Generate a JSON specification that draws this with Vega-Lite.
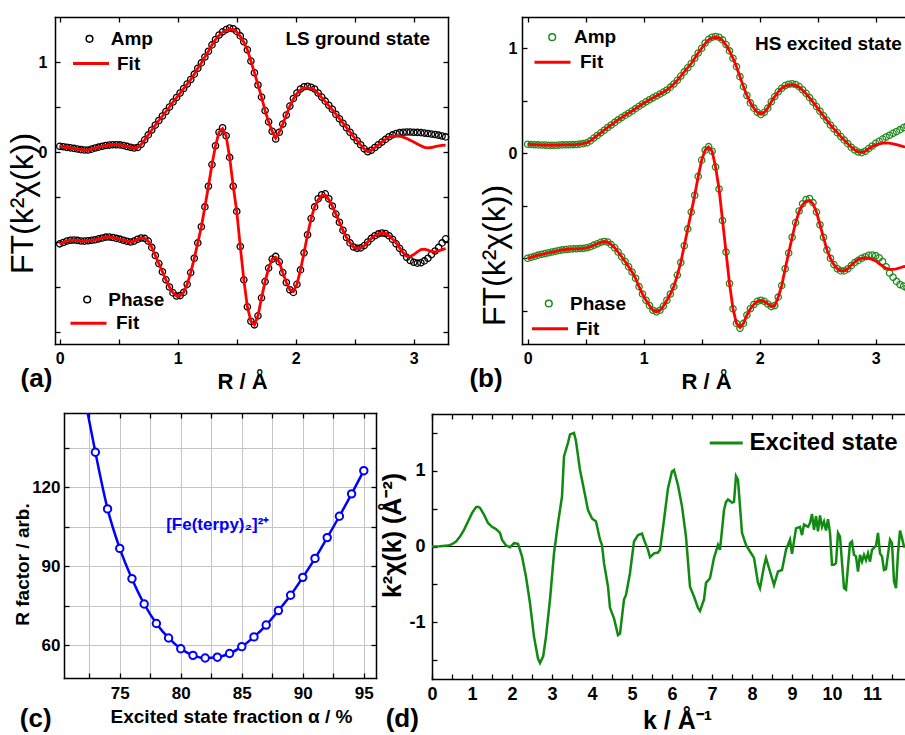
{
  "$schema": "https://vega.github.io/schema/vega-lite/v6.json",
  "width": 905,
  "height": 735,
  "autosize": {"type": "none"},
  "padding": 0,
  "background": "white",
  "config": {
    "font": "Liberation Sans",
    "view": {"stroke": null},
    "axis": {"domainColor": "black", "tickColor": "black", "domainWidth": 1.5, "tickWidth": 1.3, "labelColor": "black", "titleColor": "black", "labelFont": "Liberation Sans", "titleFont": "Liberation Sans", "labelFontWeight": "bold", "labelFlush": false, "labelOverlap": false, "grid": false, "domainCap": "square"},
    "legend": {"labelFont": "Liberation Sans", "labelFontWeight": "bold", "labelColor": "black", "padding": 0, "orient": "none", "title": null, "labelBaseline": "middle"}
  },
  "resolve": {
    "scale": {"x": "independent", "y": "independent", "color": "independent"},
    "axis": {"x": "independent", "y": "independent"},
    "legend": {"color": "independent"}
  },
  "datasets": {
    "fta": [
      {"R":0,"amp":0.063,"af":0.063,"ph":-1.02,"pf":-1.02},
      {"R":0.03,"amp":0.058,"af":0.058,"ph":-1.005,"pf":-1.005},
      {"R":0.06,"amp":0.052,"af":0.052,"ph":-0.99,"pf":-0.99},
      {"R":0.09,"amp":0.046,"af":0.046,"ph":-0.98,"pf":-0.98},
      {"R":0.12,"amp":0.04,"af":0.04,"ph":-0.978,"pf":-0.978},
      {"R":0.15,"amp":0.033,"af":0.033,"ph":-0.982,"pf":-0.982},
      {"R":0.18,"amp":0.026,"af":0.026,"ph":-0.988,"pf":-0.988},
      {"R":0.21,"amp":0.022,"af":0.022,"ph":-0.99,"pf":-0.99},
      {"R":0.24,"amp":0.022,"af":0.022,"ph":-0.986,"pf":-0.986},
      {"R":0.27,"amp":0.032,"af":0.032,"ph":-0.98,"pf":-0.98},
      {"R":0.3,"amp":0.044,"af":0.044,"ph":-0.975,"pf":-0.975},
      {"R":0.33,"amp":0.054,"af":0.054,"ph":-0.965,"pf":-0.965},
      {"R":0.36,"amp":0.064,"af":0.064,"ph":-0.955,"pf":-0.955},
      {"R":0.39,"amp":0.072,"af":0.072,"ph":-0.946,"pf":-0.946},
      {"R":0.42,"amp":0.077,"af":0.077,"ph":-0.944,"pf":-0.944},
      {"R":0.45,"amp":0.08,"af":0.08,"ph":-0.95,"pf":-0.95},
      {"R":0.48,"amp":0.081,"af":0.081,"ph":-0.96,"pf":-0.96},
      {"R":0.51,"amp":0.079,"af":0.079,"ph":-0.968,"pf":-0.968},
      {"R":0.54,"amp":0.072,"af":0.072,"ph":-0.98,"pf":-0.98},
      {"R":0.57,"amp":0.062,"af":0.062,"ph":-0.992,"pf":-0.992},
      {"R":0.6,"amp":0.052,"af":0.052,"ph":-1.0,"pf":-1.0},
      {"R":0.63,"amp":0.045,"af":0.045,"ph":-0.99,"pf":-0.99},
      {"R":0.66,"amp":0.05,"af":0.05,"ph":-0.97,"pf":-0.97},
      {"R":0.69,"amp":0.085,"af":0.085,"ph":-0.955,"pf":-0.955},
      {"R":0.72,"amp":0.135,"af":0.135,"ph":-0.96,"pf":-0.96},
      {"R":0.75,"amp":0.19,"af":0.19,"ph":-0.99,"pf":-0.99},
      {"R":0.78,"amp":0.245,"af":0.245,"ph":-1.06,"pf":-1.06},
      {"R":0.81,"amp":0.3,"af":0.3,"ph":-1.15,"pf":-1.15},
      {"R":0.84,"amp":0.35,"af":0.35,"ph":-1.24,"pf":-1.24},
      {"R":0.87,"amp":0.4,"af":0.4,"ph":-1.33,"pf":-1.33},
      {"R":0.9,"amp":0.45,"af":0.45,"ph":-1.42,"pf":-1.42},
      {"R":0.93,"amp":0.5,"af":0.5,"ph":-1.5,"pf":-1.5},
      {"R":0.96,"amp":0.555,"af":0.555,"ph":-1.565,"pf":-1.565},
      {"R":0.99,"amp":0.605,"af":0.605,"ph":-1.6,"pf":-1.6},
      {"R":1.02,"amp":0.655,"af":0.655,"ph":-1.595,"pf":-1.595},
      {"R":1.05,"amp":0.705,"af":0.705,"ph":-1.56,"pf":-1.56},
      {"R":1.08,"amp":0.755,"af":0.755,"ph":-1.47,"pf":-1.47},
      {"R":1.11,"amp":0.805,"af":0.805,"ph":-1.34,"pf":-1.34},
      {"R":1.14,"amp":0.865,"af":0.865,"ph":-1.18,"pf":-1.18},
      {"R":1.17,"amp":0.93,"af":0.93,"ph":-1.01,"pf":-1.01},
      {"R":1.2,"amp":0.99,"af":0.99,"ph":-0.83,"pf":-0.83},
      {"R":1.23,"amp":1.055,"af":1.055,"ph":-0.61,"pf":-0.61},
      {"R":1.26,"amp":1.12,"af":1.12,"ph":-0.38,"pf":-0.38},
      {"R":1.29,"amp":1.19,"af":1.19,"ph":-0.14,"pf":-0.14},
      {"R":1.32,"amp":1.25,"af":1.25,"ph":0.07,"pf":0.07},
      {"R":1.35,"amp":1.3,"af":1.295,"ph":0.22,"pf":0.22},
      {"R":1.38,"amp":1.335,"af":1.33,"ph":0.27,"pf":0.26},
      {"R":1.41,"amp":1.36,"af":1.35,"ph":0.18,"pf":0.18},
      {"R":1.44,"amp":1.378,"af":1.365,"ph":-0.06,"pf":-0.06},
      {"R":1.47,"amp":1.37,"af":1.36,"ph":-0.38,"pf":-0.38},
      {"R":1.5,"amp":1.34,"af":1.335,"ph":-0.66,"pf":-0.66},
      {"R":1.53,"amp":1.29,"af":1.285,"ph":-1.05,"pf":-1.05},
      {"R":1.56,"amp":1.225,"af":1.22,"ph":-1.42,"pf":-1.42},
      {"R":1.59,"amp":1.135,"af":1.135,"ph":-1.72,"pf":-1.72},
      {"R":1.62,"amp":1.01,"af":1.01,"ph":-1.88,"pf":-1.88},
      {"R":1.65,"amp":0.88,"af":0.88,"ph":-1.92,"pf":-1.92},
      {"R":1.68,"amp":0.745,"af":0.745,"ph":-1.82,"pf":-1.82},
      {"R":1.71,"amp":0.61,"af":0.61,"ph":-1.62,"pf":-1.62},
      {"R":1.74,"amp":0.46,"af":0.46,"ph":-1.44,"pf":-1.44},
      {"R":1.77,"amp":0.335,"af":0.335,"ph":-1.29,"pf":-1.29},
      {"R":1.8,"amp":0.23,"af":0.23,"ph":-1.19,"pf":-1.19},
      {"R":1.83,"amp":0.145,"af":0.155,"ph":-1.16,"pf":-1.17},
      {"R":1.86,"amp":0.22,"af":0.22,"ph":-1.22,"pf":-1.22},
      {"R":1.89,"amp":0.31,"af":0.31,"ph":-1.34,"pf":-1.34},
      {"R":1.92,"amp":0.41,"af":0.41,"ph":-1.45,"pf":-1.45},
      {"R":1.95,"amp":0.51,"af":0.51,"ph":-1.53,"pf":-1.53},
      {"R":1.98,"amp":0.595,"af":0.59,"ph":-1.56,"pf":-1.55},
      {"R":2.01,"amp":0.655,"af":0.65,"ph":-1.47,"pf":-1.47},
      {"R":2.04,"amp":0.7,"af":0.69,"ph":-1.31,"pf":-1.31},
      {"R":2.07,"amp":0.725,"af":0.71,"ph":-1.12,"pf":-1.12},
      {"R":2.1,"amp":0.73,"af":0.715,"ph":-0.92,"pf":-0.92},
      {"R":2.13,"amp":0.72,"af":0.705,"ph":-0.74,"pf":-0.74},
      {"R":2.16,"amp":0.7,"af":0.69,"ph":-0.61,"pf":-0.61},
      {"R":2.19,"amp":0.655,"af":0.65,"ph":-0.52,"pf":-0.53},
      {"R":2.22,"amp":0.61,"af":0.605,"ph":-0.475,"pf":-0.485},
      {"R":2.25,"amp":0.565,"af":0.56,"ph":-0.465,"pf":-0.48},
      {"R":2.28,"amp":0.52,"af":0.515,"ph":-0.52,"pf":-0.525},
      {"R":2.31,"amp":0.475,"af":0.47,"ph":-0.6,"pf":-0.6},
      {"R":2.34,"amp":0.42,"af":0.42,"ph":-0.69,"pf":-0.69},
      {"R":2.37,"amp":0.37,"af":0.37,"ph":-0.78,"pf":-0.78},
      {"R":2.4,"amp":0.32,"af":0.32,"ph":-0.87,"pf":-0.87},
      {"R":2.43,"amp":0.27,"af":0.27,"ph":-0.95,"pf":-0.95},
      {"R":2.46,"amp":0.22,"af":0.22,"ph":-1.01,"pf":-1.01},
      {"R":2.49,"amp":0.17,"af":0.17,"ph":-1.055,"pf":-1.055},
      {"R":2.52,"amp":0.125,"af":0.125,"ph":-1.07,"pf":-1.07},
      {"R":2.55,"amp":0.08,"af":0.08,"ph":-1.065,"pf":-1.065},
      {"R":2.58,"amp":0.035,"af":0.035,"ph":-1.04,"pf":-1.04},
      {"R":2.61,"amp":0.003,"af":0.005,"ph":-1.0,"pf":-1.0},
      {"R":2.64,"amp":0.02,"af":0.02,"ph":-0.96,"pf":-0.96},
      {"R":2.67,"amp":0.05,"af":0.05,"ph":-0.93,"pf":-0.93},
      {"R":2.7,"amp":0.08,"af":0.08,"ph":-0.91,"pf":-0.91},
      {"R":2.73,"amp":0.11,"af":0.11,"ph":-0.9,"pf":-0.9},
      {"R":2.76,"amp":0.14,"af":0.14,"ph":-0.905,"pf":-0.905},
      {"R":2.79,"amp":0.17,"af":0.165,"ph":-0.93,"pf":-0.93},
      {"R":2.82,"amp":0.19,"af":0.175,"ph":-0.97,"pf":-0.965},
      {"R":2.85,"amp":0.205,"af":0.18,"ph":-1.02,"pf":-1.01},
      {"R":2.88,"amp":0.215,"af":0.175,"ph":-1.07,"pf":-1.065},
      {"R":2.91,"amp":0.22,"af":0.165,"ph":-1.12,"pf":-1.12},
      {"R":2.94,"amp":0.222,"af":0.15,"ph":-1.17,"pf":-1.16},
      {"R":2.97,"amp":0.222,"af":0.13,"ph":-1.205,"pf":-1.16},
      {"R":3.0,"amp":0.22,"af":0.11,"ph":-1.225,"pf":-1.14},
      {"R":3.03,"amp":0.218,"af":0.09,"ph":-1.235,"pf":-1.11},
      {"R":3.06,"amp":0.215,"af":0.07,"ph":-1.23,"pf":-1.085},
      {"R":3.09,"amp":0.21,"af":0.052,"ph":-1.21,"pf":-1.08},
      {"R":3.12,"amp":0.206,"af":0.046,"ph":-1.18,"pf":-1.09},
      {"R":3.15,"amp":0.2,"af":0.05,"ph":-1.14,"pf":-1.105},
      {"R":3.18,"amp":0.194,"af":0.06,"ph":-1.1,"pf":-1.11},
      {"R":3.21,"amp":0.187,"af":0.068,"ph":-1.06,"pf":-1.1},
      {"R":3.24,"amp":0.178,"af":0.074,"ph":-1.01,"pf":-1.085},
      {"R":3.27,"amp":0.168,"af":0.077,"ph":-0.965,"pf":-1.072}
    ],
    "ftb": [
      {"R":0,"amp":0.086,"af":0.086,"ph":-1.0,"pf":-1.0},
      {"R":0.03,"amp":0.084,"af":0.084,"ph":-0.99,"pf":-0.99},
      {"R":0.06,"amp":0.082,"af":0.082,"ph":-0.98,"pf":-0.98},
      {"R":0.09,"amp":0.08,"af":0.08,"ph":-0.97,"pf":-0.97},
      {"R":0.12,"amp":0.079,"af":0.079,"ph":-0.962,"pf":-0.962},
      {"R":0.15,"amp":0.078,"af":0.078,"ph":-0.955,"pf":-0.955},
      {"R":0.18,"amp":0.077,"af":0.077,"ph":-0.947,"pf":-0.947},
      {"R":0.21,"amp":0.076,"af":0.076,"ph":-0.94,"pf":-0.94},
      {"R":0.24,"amp":0.077,"af":0.077,"ph":-0.933,"pf":-0.933},
      {"R":0.27,"amp":0.078,"af":0.078,"ph":-0.926,"pf":-0.926},
      {"R":0.3,"amp":0.08,"af":0.08,"ph":-0.92,"pf":-0.92},
      {"R":0.33,"amp":0.081,"af":0.081,"ph":-0.916,"pf":-0.916},
      {"R":0.36,"amp":0.082,"af":0.082,"ph":-0.912,"pf":-0.912},
      {"R":0.39,"amp":0.083,"af":0.083,"ph":-0.91,"pf":-0.91},
      {"R":0.42,"amp":0.084,"af":0.084,"ph":-0.909,"pf":-0.909},
      {"R":0.45,"amp":0.087,"af":0.087,"ph":-0.907,"pf":-0.907},
      {"R":0.48,"amp":0.092,"af":0.092,"ph":-0.905,"pf":-0.905},
      {"R":0.51,"amp":0.1,"af":0.1,"ph":-0.9,"pf":-0.9},
      {"R":0.54,"amp":0.118,"af":0.118,"ph":-0.89,"pf":-0.89},
      {"R":0.57,"amp":0.145,"af":0.145,"ph":-0.875,"pf":-0.875},
      {"R":0.6,"amp":0.17,"af":0.17,"ph":-0.862,"pf":-0.862},
      {"R":0.63,"amp":0.195,"af":0.195,"ph":-0.848,"pf":-0.848},
      {"R":0.66,"amp":0.22,"af":0.22,"ph":-0.84,"pf":-0.84},
      {"R":0.69,"amp":0.246,"af":0.246,"ph":-0.845,"pf":-0.845},
      {"R":0.72,"amp":0.27,"af":0.27,"ph":-0.87,"pf":-0.87},
      {"R":0.75,"amp":0.294,"af":0.294,"ph":-0.9,"pf":-0.9},
      {"R":0.78,"amp":0.318,"af":0.318,"ph":-0.94,"pf":-0.94},
      {"R":0.81,"amp":0.34,"af":0.34,"ph":-0.985,"pf":-0.985},
      {"R":0.84,"amp":0.361,"af":0.361,"ph":-1.03,"pf":-1.03},
      {"R":0.87,"amp":0.382,"af":0.382,"ph":-1.08,"pf":-1.08},
      {"R":0.9,"amp":0.403,"af":0.403,"ph":-1.13,"pf":-1.13},
      {"R":0.93,"amp":0.425,"af":0.425,"ph":-1.19,"pf":-1.19},
      {"R":0.96,"amp":0.447,"af":0.447,"ph":-1.27,"pf":-1.27},
      {"R":0.99,"amp":0.47,"af":0.47,"ph":-1.34,"pf":-1.34},
      {"R":1.02,"amp":0.49,"af":0.49,"ph":-1.4,"pf":-1.4},
      {"R":1.05,"amp":0.51,"af":0.51,"ph":-1.45,"pf":-1.45},
      {"R":1.08,"amp":0.528,"af":0.528,"ph":-1.495,"pf":-1.495},
      {"R":1.11,"amp":0.546,"af":0.546,"ph":-1.51,"pf":-1.51},
      {"R":1.14,"amp":0.564,"af":0.564,"ph":-1.495,"pf":-1.495},
      {"R":1.17,"amp":0.583,"af":0.583,"ph":-1.455,"pf":-1.455},
      {"R":1.2,"amp":0.603,"af":0.603,"ph":-1.4,"pf":-1.4},
      {"R":1.23,"amp":0.63,"af":0.63,"ph":-1.34,"pf":-1.34},
      {"R":1.26,"amp":0.66,"af":0.66,"ph":-1.27,"pf":-1.27},
      {"R":1.29,"amp":0.695,"af":0.695,"ph":-1.16,"pf":-1.16},
      {"R":1.32,"amp":0.735,"af":0.735,"ph":-1.04,"pf":-1.04},
      {"R":1.35,"amp":0.775,"af":0.775,"ph":-0.88,"pf":-0.88},
      {"R":1.38,"amp":0.815,"af":0.815,"ph":-0.72,"pf":-0.72},
      {"R":1.41,"amp":0.855,"af":0.855,"ph":-0.56,"pf":-0.56},
      {"R":1.44,"amp":0.905,"af":0.905,"ph":-0.4,"pf":-0.4},
      {"R":1.47,"amp":0.955,"af":0.955,"ph":-0.22,"pf":-0.22},
      {"R":1.5,"amp":1.0,"af":1.0,"ph":-0.065,"pf":-0.065},
      {"R":1.53,"amp":1.05,"af":1.045,"ph":0.03,"pf":0.03},
      {"R":1.56,"amp":1.085,"af":1.08,"ph":0.063,"pf":0.06},
      {"R":1.59,"amp":1.105,"af":1.1,"ph":0.02,"pf":0.02},
      {"R":1.62,"amp":1.112,"af":1.105,"ph":-0.13,"pf":-0.13},
      {"R":1.65,"amp":1.105,"af":1.1,"ph":-0.34,"pf":-0.34},
      {"R":1.68,"amp":1.08,"af":1.075,"ph":-0.64,"pf":-0.64},
      {"R":1.71,"amp":1.035,"af":1.03,"ph":-0.94,"pf":-0.94},
      {"R":1.74,"amp":0.975,"af":0.975,"ph":-1.24,"pf":-1.24},
      {"R":1.77,"amp":0.905,"af":0.905,"ph":-1.48,"pf":-1.48},
      {"R":1.8,"amp":0.825,"af":0.825,"ph":-1.62,"pf":-1.62},
      {"R":1.83,"amp":0.73,"af":0.73,"ph":-1.667,"pf":-1.66},
      {"R":1.86,"amp":0.635,"af":0.635,"ph":-1.62,"pf":-1.62},
      {"R":1.89,"amp":0.55,"af":0.55,"ph":-1.54,"pf":-1.54},
      {"R":1.92,"amp":0.48,"af":0.48,"ph":-1.48,"pf":-1.48},
      {"R":1.95,"amp":0.43,"af":0.43,"ph":-1.44,"pf":-1.44},
      {"R":1.98,"amp":0.39,"af":0.39,"ph":-1.41,"pf":-1.41},
      {"R":2.01,"amp":0.37,"af":0.372,"ph":-1.4,"pf":-1.4},
      {"R":2.04,"amp":0.39,"af":0.39,"ph":-1.41,"pf":-1.41},
      {"R":2.07,"amp":0.43,"af":0.43,"ph":-1.435,"pf":-1.435},
      {"R":2.1,"amp":0.49,"af":0.49,"ph":-1.46,"pf":-1.46},
      {"R":2.13,"amp":0.54,"af":0.54,"ph":-1.45,"pf":-1.45},
      {"R":2.16,"amp":0.585,"af":0.585,"ph":-1.37,"pf":-1.37},
      {"R":2.19,"amp":0.62,"af":0.62,"ph":-1.26,"pf":-1.26},
      {"R":2.22,"amp":0.645,"af":0.64,"ph":-1.1,"pf":-1.1},
      {"R":2.25,"amp":0.658,"af":0.65,"ph":-0.95,"pf":-0.95},
      {"R":2.28,"amp":0.662,"af":0.655,"ph":-0.8,"pf":-0.8},
      {"R":2.31,"amp":0.655,"af":0.648,"ph":-0.66,"pf":-0.66},
      {"R":2.34,"amp":0.635,"af":0.63,"ph":-0.55,"pf":-0.555},
      {"R":2.37,"amp":0.605,"af":0.6,"ph":-0.48,"pf":-0.49},
      {"R":2.4,"amp":0.571,"af":0.568,"ph":-0.44,"pf":-0.455},
      {"R":2.43,"amp":0.53,"af":0.528,"ph":-0.43,"pf":-0.45},
      {"R":2.46,"amp":0.488,"af":0.488,"ph":-0.47,"pf":-0.48},
      {"R":2.49,"amp":0.445,"af":0.445,"ph":-0.56,"pf":-0.56},
      {"R":2.52,"amp":0.4,"af":0.4,"ph":-0.68,"pf":-0.68},
      {"R":2.55,"amp":0.357,"af":0.357,"ph":-0.8,"pf":-0.8},
      {"R":2.58,"amp":0.314,"af":0.314,"ph":-0.92,"pf":-0.92},
      {"R":2.61,"amp":0.27,"af":0.27,"ph":-1.0,"pf":-1.0},
      {"R":2.64,"amp":0.233,"af":0.233,"ph":-1.06,"pf":-1.06},
      {"R":2.67,"amp":0.196,"af":0.196,"ph":-1.1,"pf":-1.1},
      {"R":2.7,"amp":0.159,"af":0.159,"ph":-1.12,"pf":-1.12},
      {"R":2.73,"amp":0.125,"af":0.125,"ph":-1.12,"pf":-1.12},
      {"R":2.76,"amp":0.092,"af":0.092,"ph":-1.1,"pf":-1.1},
      {"R":2.79,"amp":0.058,"af":0.058,"ph":-1.07,"pf":-1.065},
      {"R":2.82,"amp":0.032,"af":0.032,"ph":-1.04,"pf":-1.035},
      {"R":2.85,"amp":0.012,"af":0.012,"ph":-1.02,"pf":-1.01},
      {"R":2.88,"amp":0.006,"af":0.006,"ph":-1.0,"pf":-1.0},
      {"R":2.91,"amp":0.02,"af":0.02,"ph":-0.985,"pf":-0.995},
      {"R":2.94,"amp":0.045,"af":0.045,"ph":-0.972,"pf":-1.0},
      {"R":2.97,"amp":0.07,"af":0.065,"ph":-0.968,"pf":-1.01},
      {"R":3.0,"amp":0.095,"af":0.08,"ph":-0.975,"pf":-1.025},
      {"R":3.03,"amp":0.115,"af":0.09,"ph":-0.995,"pf":-1.05},
      {"R":3.06,"amp":0.135,"af":0.097,"ph":-1.03,"pf":-1.075},
      {"R":3.09,"amp":0.155,"af":0.098,"ph":-1.08,"pf":-1.095},
      {"R":3.12,"amp":0.172,"af":0.096,"ph":-1.14,"pf":-1.105},
      {"R":3.15,"amp":0.19,"af":0.09,"ph":-1.18,"pf":-1.105},
      {"R":3.18,"amp":0.207,"af":0.082,"ph":-1.22,"pf":-1.1},
      {"R":3.21,"amp":0.225,"af":0.073,"ph":-1.25,"pf":-1.09},
      {"R":3.24,"amp":0.245,"af":0.064,"ph":-1.265,"pf":-1.08},
      {"R":3.27,"amp":0.26,"af":0.057,"ph":-1.28,"pf":-1.075}
    ],
    "rf": [
      {"alpha":73,"rfac":133.3},{"alpha":74,"rfac":111.8},{"alpha":75,"rfac":96.8},{"alpha":76,"rfac":85.3},
      {"alpha":77,"rfac":75.7},{"alpha":78,"rfac":68.3},{"alpha":79,"rfac":62.8},{"alpha":80,"rfac":58.7},
      {"alpha":81,"rfac":56.2},{"alpha":82,"rfac":55.2},{"alpha":83,"rfac":55.5},{"alpha":84,"rfac":56.9},
      {"alpha":85,"rfac":59.5},{"alpha":86,"rfac":63.2},{"alpha":87,"rfac":67.7},{"alpha":88,"rfac":73.2},
      {"alpha":89,"rfac":79.0},{"alpha":90,"rfac":85.8},{"alpha":91,"rfac":93.0},{"alpha":92,"rfac":100.9},
      {"alpha":93,"rfac":109.0},{"alpha":94,"rfac":117.5},{"alpha":95,"rfac":126.3}
    ],
    "rfl": [
      {"alpha":72.37,"rfac":148.2},
      {"alpha":73,"rfac":133.3},{"alpha":74,"rfac":111.8},{"alpha":75,"rfac":96.8},{"alpha":76,"rfac":85.3},
      {"alpha":77,"rfac":75.7},{"alpha":78,"rfac":68.3},{"alpha":79,"rfac":62.8},{"alpha":80,"rfac":58.7},
      {"alpha":81,"rfac":56.2},{"alpha":82,"rfac":55.2},{"alpha":83,"rfac":55.5},{"alpha":84,"rfac":56.9},
      {"alpha":85,"rfac":59.5},{"alpha":86,"rfac":63.2},{"alpha":87,"rfac":67.7},{"alpha":88,"rfac":73.2},
      {"alpha":89,"rfac":79.0},{"alpha":90,"rfac":85.8},{"alpha":91,"rfac":93.0},{"alpha":92,"rfac":100.9},
      {"alpha":93,"rfac":109.0},{"alpha":94,"rfac":117.5},{"alpha":95,"rfac":126.3}
    ],
    "chi": [
      {"k":0,"c":0},{"k":0.2,"c":0.002},{"k":0.4,"c":0.012},{"k":0.5,"c":0.03},{"k":0.6,"c":0.065},
      {"k":0.7,"c":0.13},{"k":0.8,"c":0.22},{"k":0.9,"c":0.33},{"k":1.0,"c":0.44},{"k":1.1,"c":0.52},
      {"k":1.15,"c":0.525},{"k":1.2,"c":0.51},{"k":1.3,"c":0.42},{"k":1.4,"c":0.31},{"k":1.5,"c":0.26},
      {"k":1.6,"c":0.23},{"k":1.7,"c":0.18},{"k":1.75,"c":0.09},{"k":1.85,"c":0.013},{"k":1.95,"c":-0.01},
      {"k":2.05,"c":0.044},{"k":2.15,"c":0.035},{"k":2.25,"c":-0.13},{"k":2.35,"c":-0.4},{"k":2.45,"c":-0.75},
      {"k":2.55,"c":-1.19},{"k":2.65,"c":-1.48},{"k":2.7,"c":-1.54},{"k":2.78,"c":-1.45},{"k":2.85,"c":-1.19},
      {"k":2.95,"c":-0.7},{"k":3.05,"c":-0.09},{"k":3.15,"c":0.31},{"k":3.25,"c":0.66},{"k":3.3,"c":1.19},
      {"k":3.4,"c":1.37},{"k":3.45,"c":1.48},{"k":3.55,"c":1.5},{"k":3.6,"c":1.39},{"k":3.7,"c":1.01},
      {"k":3.8,"c":0.75},{"k":3.9,"c":0.48},{"k":4.0,"c":0.37},{"k":4.1,"c":0.33},{"k":4.2,"c":0.09},
      {"k":4.25,"c":0.02},{"k":4.3,"c":-0.22},{"k":4.4,"c":-0.53},{"k":4.45,"c":-0.81},{"k":4.55,"c":-0.95},
      {"k":4.65,"c":-1.17},{"k":4.7,"c":-1.15},{"k":4.8,"c":-0.7},{"k":4.85,"c":-0.64},{"k":4.95,"c":-0.35},
      {"k":5.05,"c":0.066},{"k":5.15,"c":0.15},{"k":5.25,"c":0.17},{"k":5.3,"c":0.09},{"k":5.4,"c":-0.044},
      {"k":5.45,"c":-0.14},{"k":5.55,"c":-0.09},{"k":5.65,"c":-0.08},{"k":5.7,"c":-0.044},{"k":5.8,"c":0.35},
      {"k":5.9,"c":0.77},{"k":6.0,"c":0.99},{"k":6.05,"c":1.01},{"k":6.15,"c":0.81},{"k":6.25,"c":0.53},
      {"k":6.35,"c":0.13},{"k":6.45,"c":-0.53},{"k":6.55,"c":-0.66},{"k":6.65,"c":-0.81},{"k":6.7,"c":-0.85},
      {"k":6.8,"c":-0.7},{"k":6.85,"c":-0.48},{"k":6.95,"c":-0.42},{"k":7.05,"c":-0.15},{"k":7.15,"c":0.02},
      {"k":7.2,"c":-0.044},{"k":7.3,"c":0.48},{"k":7.35,"c":0.59},{"k":7.4,"c":0.62},{"k":7.5,"c":0.58},
      {"k":7.55,"c":0.59},{"k":7.6,"c":0.93},{"k":7.65,"c":0.88},{"k":7.75,"c":0.18},{"k":7.85,"c":0.02},
      {"k":7.95,"c":-0.066},{"k":8.05,"c":-0.15},{"k":8.15,"c":-0.48},{"k":8.2,"c":-0.55},{"k":8.3,"c":-0.26},
      {"k":8.35,"c":-0.15},{"k":8.45,"c":-0.33},{"k":8.55,"c":-0.51},{"k":8.65,"c":-0.33},{"k":8.75,"c":-0.31},
      {"k":8.85,"c":-0.044},{"k":8.95,"c":0.09},{"k":9.0,"c":-0.097},{"k":9.1,"c":0.24},{"k":9.2,"c":0.26},
      {"k":9.25,"c":0.15},{"k":9.3,"c":0.29},{"k":9.4,"c":0.26},{"k":9.45,"c":0.31},{"k":9.5,"c":0.43},
      {"k":9.55,"c":0.22},{"k":9.6,"c":0.4},{"k":9.65,"c":0.2},{"k":9.7,"c":0.41},{"k":9.75,"c":0.26},
      {"k":9.8,"c":0.33},{"k":9.85,"c":0.21},{"k":9.9,"c":0.36},{"k":9.95,"c":0.18},{"k":10.0,"c":-0.24},
      {"k":10.05,"c":-0.24},{"k":10.1,"c":-0.22},{"k":10.15,"c":0.18},{"k":10.2,"c":0.13},{"k":10.3,"c":-0.55},
      {"k":10.35,"c":-0.57},{"k":10.45,"c":0.044},{"k":10.5,"c":0.066},{"k":10.55,"c":-0.11},{"k":10.6,"c":-0.13},
      {"k":10.65,"c":-0.33},{"k":10.7,"c":-0.11},{"k":10.75,"c":-0.2},{"k":10.8,"c":-0.11},{"k":10.85,"c":-0.18},
      {"k":10.9,"c":-0.09},{"k":10.95,"c":-0.2},{"k":11.0,"c":-0.044},{"k":11.1,"c":0.01},{"k":11.15,"c":0.18},
      {"k":11.2,"c":-0.09},{"k":11.25,"c":-0.13},{"k":11.3,"c":-0.31},{"k":11.35,"c":-0.3},{"k":11.45,"c":0.09},
      {"k":11.5,"c":0.044},{"k":11.55,"c":-0.46},{"k":11.6,"c":-0.55},{"k":11.65,"c":-0.09},{"k":11.7,"c":0.21},
      {"k":11.75,"c":0.11},{"k":11.8,"c":0.0},{"k":11.85,"c":0.0}
    ]
  },
  "layer": [
    {
      "data": {"name": "fta"},
      "mark": {"type": "point", "shape": "circle", "filled": false, "size": 40, "strokeWidth": 1.3, "opacity": 1},
      "encoding": {
        "x": {"field": "R", "type": "quantitative", "scale": {"domain": [-0.04, 3.29], "range": [55, 448], "nice": false, "zero": false},
          "axis": {"orient": "bottom", "offset": -391, "values": [0,0.5,1,1.5,2,2.5,3], "labelExpr": "datum.value % 1 === 0 ? '' + datum.value : ''", "tickSize": -5, "labelPadding": 11, "labelFontSize": 16, "title": "R / Å", "titleFontSize": 22, "titleFontWeight": "bold", "titleX": 242, "titleY": 44, "titleBaseline": "alphabetic", "titleAlign": "center"}},
        "y": {"field": "amp", "type": "quantitative", "scale": {"domain": [-2.133, 1.5], "range": [344, 17], "nice": false, "zero": false},
          "axis": {"orient": "left", "offset": -55, "values": [-2,-1.5,-1,-0.5,0,0.5,1], "labelExpr": "datum.value === 0 || datum.value === 1 ? '' + datum.value : ''", "tickSize": -5, "labelPadding": 13, "labelFontSize": 16, "title": "FT(k²χ(k))", "titleFontSize": 32, "titleFontWeight": "normal", "titleX": -23, "titleY": 203, "titleBaseline": "alphabetic", "titleAngle": 270, "titleAlign": "center"}},
        "color": {"datum": "Amp", "type": "nominal", "scale": {"domain": ["Amp"], "range": ["black"]},
          "legend": {"legendX": 80, "legendY": 29.3, "symbolType": "circle", "symbolSize": 45, "symbolStrokeWidth": 1.5, "labelOffset": 11.7, "labelFontSize": 19}}
      }
    },
    {
      "data": {"name": "fta"},
      "mark": {"type": "line", "strokeWidth": 2.8},
      "encoding": {
        "x": {"field": "R", "type": "quantitative", "scale": {"domain": [-0.04, 3.29], "range": [55, 448], "nice": false, "zero": false},
          "axis": {"orient": "top", "offset": -17, "values": [0,0.5,1,1.5,2,2.5,3], "labels": false, "tickSize": -5, "title": null}},
        "y": {"field": "af", "type": "quantitative", "scale": {"domain": [-2.133, 1.5], "range": [344, 17], "nice": false, "zero": false},
          "axis": {"orient": "right", "offset": -457, "values": [-2,-1.5,-1,-0.5,0,0.5,1], "labels": false, "tickSize": -5, "title": null}},
        "color": {"datum": "Fit", "type": "nominal", "scale": {"domain": ["Fit"], "range": ["#ff0000"]},
          "legend": {"legendX": 80.5, "legendY": 53, "symbolType": "M-2,0H2", "symbolSize": 324, "symbolStrokeWidth": 3, "labelOffset": 15.5, "labelFontSize": 19}}
      }
    },
    {
      "data": {"name": "fta"},
      "mark": {"type": "point", "shape": "circle", "filled": false, "size": 40, "strokeWidth": 1.3, "opacity": 1},
      "encoding": {
        "x": {"field": "R", "type": "quantitative", "scale": {"domain": [-0.04, 3.29], "range": [55, 448], "nice": false, "zero": false}, "axis": null},
        "y": {"field": "ph", "type": "quantitative", "scale": {"domain": [-2.133, 1.5], "range": [344, 17], "nice": false, "zero": false}, "axis": null},
        "color": {"datum": "Phase", "type": "nominal", "scale": {"domain": ["Phase"], "range": ["black"]},
          "legend": {"legendX": 77.7, "legendY": 290, "symbolType": "circle", "symbolSize": 45, "symbolStrokeWidth": 1.5, "labelOffset": 11.6, "labelFontSize": 19}}
      }
    },
    {
      "data": {"name": "fta"},
      "mark": {"type": "line", "strokeWidth": 2.8},
      "encoding": {
        "x": {"field": "R", "type": "quantitative", "scale": {"domain": [-0.04, 3.29], "range": [55, 448], "nice": false, "zero": false}, "axis": null},
        "y": {"field": "pf", "type": "quantitative", "scale": {"domain": [-2.133, 1.5], "range": [344, 17], "nice": false, "zero": false}, "axis": null},
        "color": {"datum": "Fit", "type": "nominal", "scale": {"domain": ["Fit"], "range": ["#ff0000"]},
          "legend": {"legendX": 78, "legendY": 312.7, "symbolType": "M-2,0H2", "symbolSize": 324, "symbolStrokeWidth": 3, "labelOffset": 17, "labelFontSize": 19}}
      }
    },
    {
      "data": {"values": [{}]},
      "mark": {"type": "text", "fontWeight": "bold", "fontSize": 19, "align": "right", "baseline": "middle", "color": "black"},
      "encoding": {
        "x": {"datum": 3.138, "type": "quantitative", "scale": {"domain": [-0.04, 3.29], "range": [55, 448], "nice": false, "zero": false}, "axis": null},
        "y": {"datum": 1.252, "type": "quantitative", "scale": {"domain": [-2.133, 1.5], "range": [344, 17], "nice": false, "zero": false}, "axis": null},
        "text": {"value": "LS ground state"}
      }
    },
    {
      "data": {"values": [{}]},
      "mark": {"type": "text", "fontWeight": "bold", "fontSize": 26, "align": "center", "baseline": "alphabetic", "color": "black"},
      "encoding": {
        "x": {"datum": -0.197, "type": "quantitative", "scale": {"domain": [-0.04, 3.29], "range": [55, 448], "nice": false, "zero": false}, "axis": null},
        "y": {"datum": -2.611, "type": "quantitative", "scale": {"domain": [-2.133, 1.5], "range": [344, 17], "nice": false, "zero": false}, "axis": null},
        "text": {"value": "(a)"}
      }
    },
    {
      "data": {"name": "ftb"},
      "mark": {"type": "point", "shape": "circle", "filled": false, "size": 40, "strokeWidth": 1.3, "opacity": 1},
      "encoding": {
        "x": {"field": "R", "type": "quantitative", "scale": {"domain": [-0.049, 3.253], "range": [522, 905], "nice": false, "zero": false},
          "axis": {"orient": "bottom", "offset": -391, "values": [0,0.5,1,1.5,2,2.5,3], "labelExpr": "datum.value % 1 === 0 ? '' + datum.value : ''", "tickSize": -5, "labelPadding": 11, "labelFontSize": 16, "title": "R / Å", "titleFontSize": 22, "titleFontWeight": "bold", "titleX": 706, "titleY": 44, "titleBaseline": "alphabetic", "titleAlign": "center"}},
        "y": {"field": "amp", "type": "quantitative", "scale": {"domain": [-1.816, 1.298], "range": [344, 17], "nice": false, "zero": false},
          "axis": {"orient": "left", "offset": -522, "values": [-1.5,-1,-0.5,0,0.5,1], "labelExpr": "datum.value === 0 || datum.value === 1 ? '' + datum.value : ''", "tickSize": -5, "labelPadding": 10, "labelFontSize": 16, "title": "FT(k²χ(k))", "titleFontSize": 32, "titleFontWeight": "normal", "titleX": -18, "titleY": 255, "titleBaseline": "alphabetic", "titleAngle": 270, "titleAlign": "center"}},
        "color": {"datum": "Amp", "type": "nominal", "scale": {"domain": ["Amp"], "range": ["#1e8c1e"]},
          "legend": {"legendX": 542.7, "legendY": 27.7, "symbolType": "circle", "symbolSize": 45, "symbolStrokeWidth": 1.5, "labelOffset": 12.3, "labelFontSize": 19}}
      }
    },
    {
      "data": {"name": "ftb"},
      "mark": {"type": "line", "strokeWidth": 2.8},
      "encoding": {
        "x": {"field": "R", "type": "quantitative", "scale": {"domain": [-0.049, 3.253], "range": [522, 905], "nice": false, "zero": false},
          "axis": {"orient": "top", "offset": -17, "values": [0,0.5,1,1.5,2,2.5,3], "labels": false, "tickSize": -5, "title": null}},
        "y": {"field": "af", "type": "quantitative", "scale": {"domain": [-1.816, 1.298], "range": [344, 17], "nice": false, "zero": false}, "axis": null},
        "color": {"datum": "Fit", "type": "nominal", "scale": {"domain": ["Fit"], "range": ["#ff0000"]},
          "legend": {"legendX": 542, "legendY": 51.7, "symbolType": "M-2,0H2", "symbolSize": 324, "symbolStrokeWidth": 3, "labelOffset": 17, "labelFontSize": 19}}
      }
    },
    {
      "data": {"name": "ftb"},
      "mark": {"type": "point", "shape": "circle", "filled": false, "size": 40, "strokeWidth": 1.3, "opacity": 1},
      "encoding": {
        "x": {"field": "R", "type": "quantitative", "scale": {"domain": [-0.049, 3.253], "range": [522, 905], "nice": false, "zero": false}, "axis": null},
        "y": {"field": "ph", "type": "quantitative", "scale": {"domain": [-1.816, 1.298], "range": [344, 17], "nice": false, "zero": false}, "axis": null},
        "color": {"datum": "Phase", "type": "nominal", "scale": {"domain": ["Phase"], "range": ["#1e8c1e"]},
          "legend": {"legendX": 539.3, "legendY": 294, "symbolType": "circle", "symbolSize": 45, "symbolStrokeWidth": 1.5, "labelOffset": 11.7, "labelFontSize": 19}}
      }
    },
    {
      "data": {"name": "ftb"},
      "mark": {"type": "line", "strokeWidth": 2.8},
      "encoding": {
        "x": {"field": "R", "type": "quantitative", "scale": {"domain": [-0.049, 3.253], "range": [522, 905], "nice": false, "zero": false}, "axis": null},
        "y": {"field": "pf", "type": "quantitative", "scale": {"domain": [-1.816, 1.298], "range": [344, 17], "nice": false, "zero": false}, "axis": null},
        "color": {"datum": "Fit", "type": "nominal", "scale": {"domain": ["Fit"], "range": ["#ff0000"]},
          "legend": {"legendX": 539.5, "legendY": 318.3, "symbolType": "M-2,0H2", "symbolSize": 324, "symbolStrokeWidth": 3, "labelOffset": 15.5, "labelFontSize": 19}}
      }
    },
    {
      "data": {"values": [{}]},
      "mark": {"type": "text", "fontWeight": "bold", "fontSize": 19, "align": "left", "baseline": "middle", "color": "black"},
      "encoding": {
        "x": {"datum": 1.96, "type": "quantitative", "scale": {"domain": [-0.049, 3.253], "range": [522, 905], "nice": false, "zero": false}, "axis": null},
        "y": {"datum": 1.041, "type": "quantitative", "scale": {"domain": [-1.816, 1.298], "range": [344, 17], "nice": false, "zero": false}, "axis": null},
        "text": {"value": "HS excited state"}
      }
    },
    {
      "data": {"values": [{}]},
      "mark": {"type": "text", "fontWeight": "bold", "fontSize": 26, "align": "center", "baseline": "alphabetic", "color": "black"},
      "encoding": {
        "x": {"datum": -0.359, "type": "quantitative", "scale": {"domain": [-0.049, 3.253], "range": [522, 905], "nice": false, "zero": false}, "axis": null},
        "y": {"datum": -2.226, "type": "quantitative", "scale": {"domain": [-1.816, 1.298], "range": [344, 17], "nice": false, "zero": false}, "axis": null},
        "text": {"value": "(b)"}
      }
    },
    {
      "data": {"name": "rfl"},
      "mark": {"type": "line", "color": "#0000ff", "strokeWidth": 2.5, "interpolate": "monotone"},
      "encoding": {
        "x": {"field": "alpha", "type": "quantitative", "scale": {"domain": [70.43, 96.0], "range": [64, 376], "nice": false, "zero": false},
          "axis": {"orient": "bottom", "offset": -57, "values": [72.5,75,77.5,80,82.5,85,87.5,90,92.5,95], "labelExpr": "datum.value % 5 === 0 ? '' + datum.value : ''", "tickSize": -5, "labelPadding": 12, "labelFontSize": 17, "title": "Excited state fraction α  / %", "titleFontSize": 19, "titleFontWeight": "bold", "titleX": 231, "titleY": 44, "titleBaseline": "alphabetic", "titleAlign": "center"}},
        "y": {"field": "rfac", "type": "quantitative", "scale": {"domain": [47.6, 148.2], "range": [678, 413], "nice": false, "zero": false},
          "axis": {"orient": "left", "offset": -64, "values": [60,75,90,105,120,135], "labelExpr": "datum.value % 30 === 0 ? '' + datum.value : ''", "grid": true, "gridColor": "#c4c4c4", "gridWidth": 1, "tickSize": -5, "labelPadding": 9, "labelFontSize": 17, "title": "R factor / arb.", "titleFontSize": 19, "titleFontWeight": "bold", "titleX": -36, "titleY": 564, "titleBaseline": "alphabetic", "titleAngle": 270, "titleAlign": "center"}}
      }
    },
    {
      "data": {"name": "rf"},
      "mark": {"type": "point", "shape": "circle", "filled": true, "fill": "white", "stroke": "#0000ff", "strokeWidth": 2, "size": 55, "opacity": 1},
      "encoding": {
        "x": {"field": "alpha", "type": "quantitative", "scale": {"domain": [70.43, 96.0], "range": [64, 376], "nice": false, "zero": false},
          "axis": {"orient": "top", "offset": -413, "values": [72.5,75,77.5,80,82.5,85,87.5,90,92.5,95], "labels": false, "grid": true, "gridColor": "#c4c4c4", "gridWidth": 1, "tickSize": -5, "title": null}},
        "y": {"field": "rfac", "type": "quantitative", "scale": {"domain": [47.6, 148.2], "range": [678, 413], "nice": false, "zero": false},
          "axis": {"orient": "right", "offset": -529, "values": [60,75,90,105,120,135], "labels": false, "tickSize": -5, "title": null}}
      }
    },
    {
      "data": {"values": [{}]},
      "mark": {"type": "text", "fontWeight": "bold", "fontSize": 17, "align": "left", "baseline": "middle", "color": "#0000ff"},
      "encoding": {
        "x": {"datum": 78.8, "type": "quantitative", "scale": {"domain": [70.43, 96.0], "range": [64, 376], "nice": false, "zero": false}, "axis": null},
        "y": {"datum": 105.5, "type": "quantitative", "scale": {"domain": [47.6, 148.2], "range": [678, 413], "nice": false, "zero": false}, "axis": null},
        "text": {"value": "[Fe(terpy)₂]²⁺"}
      }
    },
    {
      "data": {"values": [{}]},
      "mark": {"type": "text", "fontWeight": "bold", "fontSize": 26, "align": "center", "baseline": "alphabetic", "color": "black"},
      "encoding": {
        "x": {"datum": 68.11, "type": "quantitative", "scale": {"domain": [70.43, 96.0], "range": [64, 376], "nice": false, "zero": false}, "axis": null},
        "y": {"datum": 28.93, "type": "quantitative", "scale": {"domain": [47.6, 148.2], "range": [678, 413], "nice": false, "zero": false}, "axis": null},
        "text": {"value": "(c)"}
      }
    },
    {
      "data": {"values": [{}]},
      "mark": {"type": "rule", "color": "black", "strokeWidth": 1},
      "encoding": {
        "x": {"datum": 0, "type": "quantitative", "scale": {"domain": [0, 11.825], "range": [432, 905], "nice": false, "zero": false},
          "axis": {"orient": "top", "offset": -414, "values": [0,0.5,1,1.5,2,2.5,3,3.5,4,4.5,5,5.5,6,6.5,7,7.5,8,8.5,9,9.5,10,10.5,11,11.5], "labels": false, "tickSize": -5, "title": null}},
        "x2": {"datum": 11.825},
        "y": {"datum": 0, "type": "quantitative", "scale": {"domain": [-1.75, 1.75], "range": [679, 414], "nice": false, "zero": false}, "axis": null}
      }
    },
    {
      "data": {"name": "chi"},
      "mark": {"type": "line", "strokeWidth": 2.5},
      "encoding": {
        "x": {"field": "k", "type": "quantitative", "scale": {"domain": [0, 11.825], "range": [432, 905], "nice": false, "zero": false},
          "axis": {"orient": "bottom", "offset": -56, "values": [0,0.5,1,1.5,2,2.5,3,3.5,4,4.5,5,5.5,6,6.5,7,7.5,8,8.5,9,9.5,10,10.5,11,11.5], "labelExpr": "datum.value % 1 === 0 ? '' + datum.value : ''", "tickSize": -5, "labelPadding": 11, "labelFontSize": 18, "title": "k / Å⁻¹", "titleFontSize": 25, "titleFontWeight": "bold", "titleX": 677, "titleY": 49, "titleBaseline": "alphabetic", "titleAlign": "center"}},
        "y": {"field": "c", "type": "quantitative", "scale": {"domain": [-1.75, 1.75], "range": [679, 414], "nice": false, "zero": false},
          "axis": {"orient": "left", "offset": -432, "values": [-1.5,-1,-0.5,0,0.5,1,1.5], "labelExpr": "datum.value % 1 === 0 ? '' + datum.value : ''", "tickSize": -5, "labelPadding": 12, "labelFontSize": 18, "title": "k²χ(k) (Å⁻²)", "titleFontSize": 25, "titleFontWeight": "bold", "titleX": -32, "titleY": 535, "titleBaseline": "alphabetic", "titleAngle": 270, "titleAlign": "center"}},
        "color": {"datum": "Excited state", "type": "nominal", "scale": {"domain": ["Excited state"], "range": ["#108a10"]},
          "legend": {"legendX": 714.25, "legendY": 431, "symbolType": "M-2,0H2", "symbolSize": 272, "symbolStrokeWidth": 3, "labelOffset": 11.25, "labelFontSize": 24}}
      }
    },
    {
      "data": {"values": [{}]},
      "mark": {"type": "text", "fontWeight": "bold", "fontSize": 26, "align": "center", "baseline": "alphabetic", "color": "black"},
      "encoding": {
        "x": {"datum": -0.7425, "type": "quantitative", "scale": {"domain": [0, 11.825], "range": [432, 905], "nice": false, "zero": false}, "axis": null},
        "y": {"datum": -2.388, "type": "quantitative", "scale": {"domain": [-1.75, 1.75], "range": [679, 414], "nice": false, "zero": false}, "axis": null},
        "text": {"value": "(d)"}
      }
    }
  ]
}
